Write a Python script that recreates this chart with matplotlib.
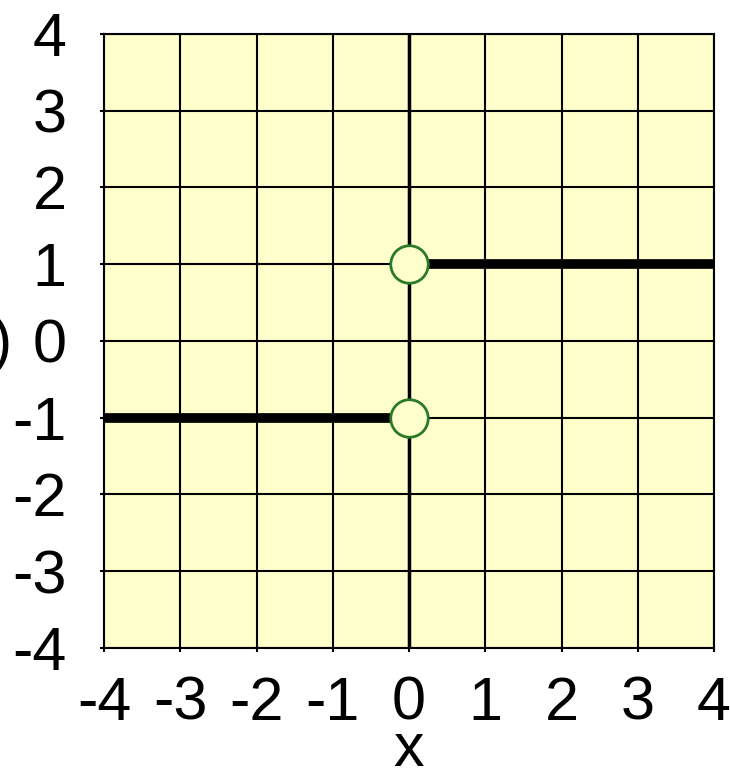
import matplotlib
matplotlib.use('Agg')
import matplotlib.pyplot as plt

plt.rcParams['font.family'] = ['Liberation Sans', 'DejaVu Sans']

left_x = [-4, 0]
left_y = [-1, -1]
right_x = [0, 4]
right_y = [1, 1]
open_x = [0, 0]
open_y = [1, -1]
ticks = [-4, -3, -2, -1, 0, 1, 2, 3, 4]

fig = plt.figure(figsize=(7.3, 7.73), dpi=100)
ax = fig.add_axes([104 / 730, 1 - 648 / 773, 610 / 730, 614 / 773])
ax.set_facecolor('#ffffcc')

ax.plot(left_x, left_y, color='black', lw=7, solid_capstyle='butt', zorder=3)
ax.plot(right_x, right_y, color='black', lw=7, solid_capstyle='butt', zorder=3)
ax.axvline(0, color='black', lw=2.5, zorder=2)
ax.plot(open_x, open_y, 'o', ms=27, mfc='#ffffcc', mec='#2a7a2a', mew=2, zorder=4,
        clip_on=False)

ax.set_xlim(-4, 4)
ax.set_ylim(-4, 4)
ax.set_xticks(ticks)
ax.set_yticks(ticks)
ax.set_xticklabels([str(t) for t in ticks])
ax.set_yticklabels([str(t) for t in ticks])
ax.tick_params(labelsize=44, length=3, width=1.5)
ax.tick_params(axis='x', pad=17)
ax.tick_params(axis='y', pad=24)
ax.grid(True, color='black', lw=1.5)
ax.set_axisbelow(True)
for s in ax.spines.values():
    s.set_linewidth(1.5)

ax.set_xlabel('x', fontsize=44, labelpad=-8)
fig.text(12 / 730, 1 - 345 / 773, 'f(x)', fontsize=44, ha='right', va='center')

fig.savefig('out.png', dpi=100)
